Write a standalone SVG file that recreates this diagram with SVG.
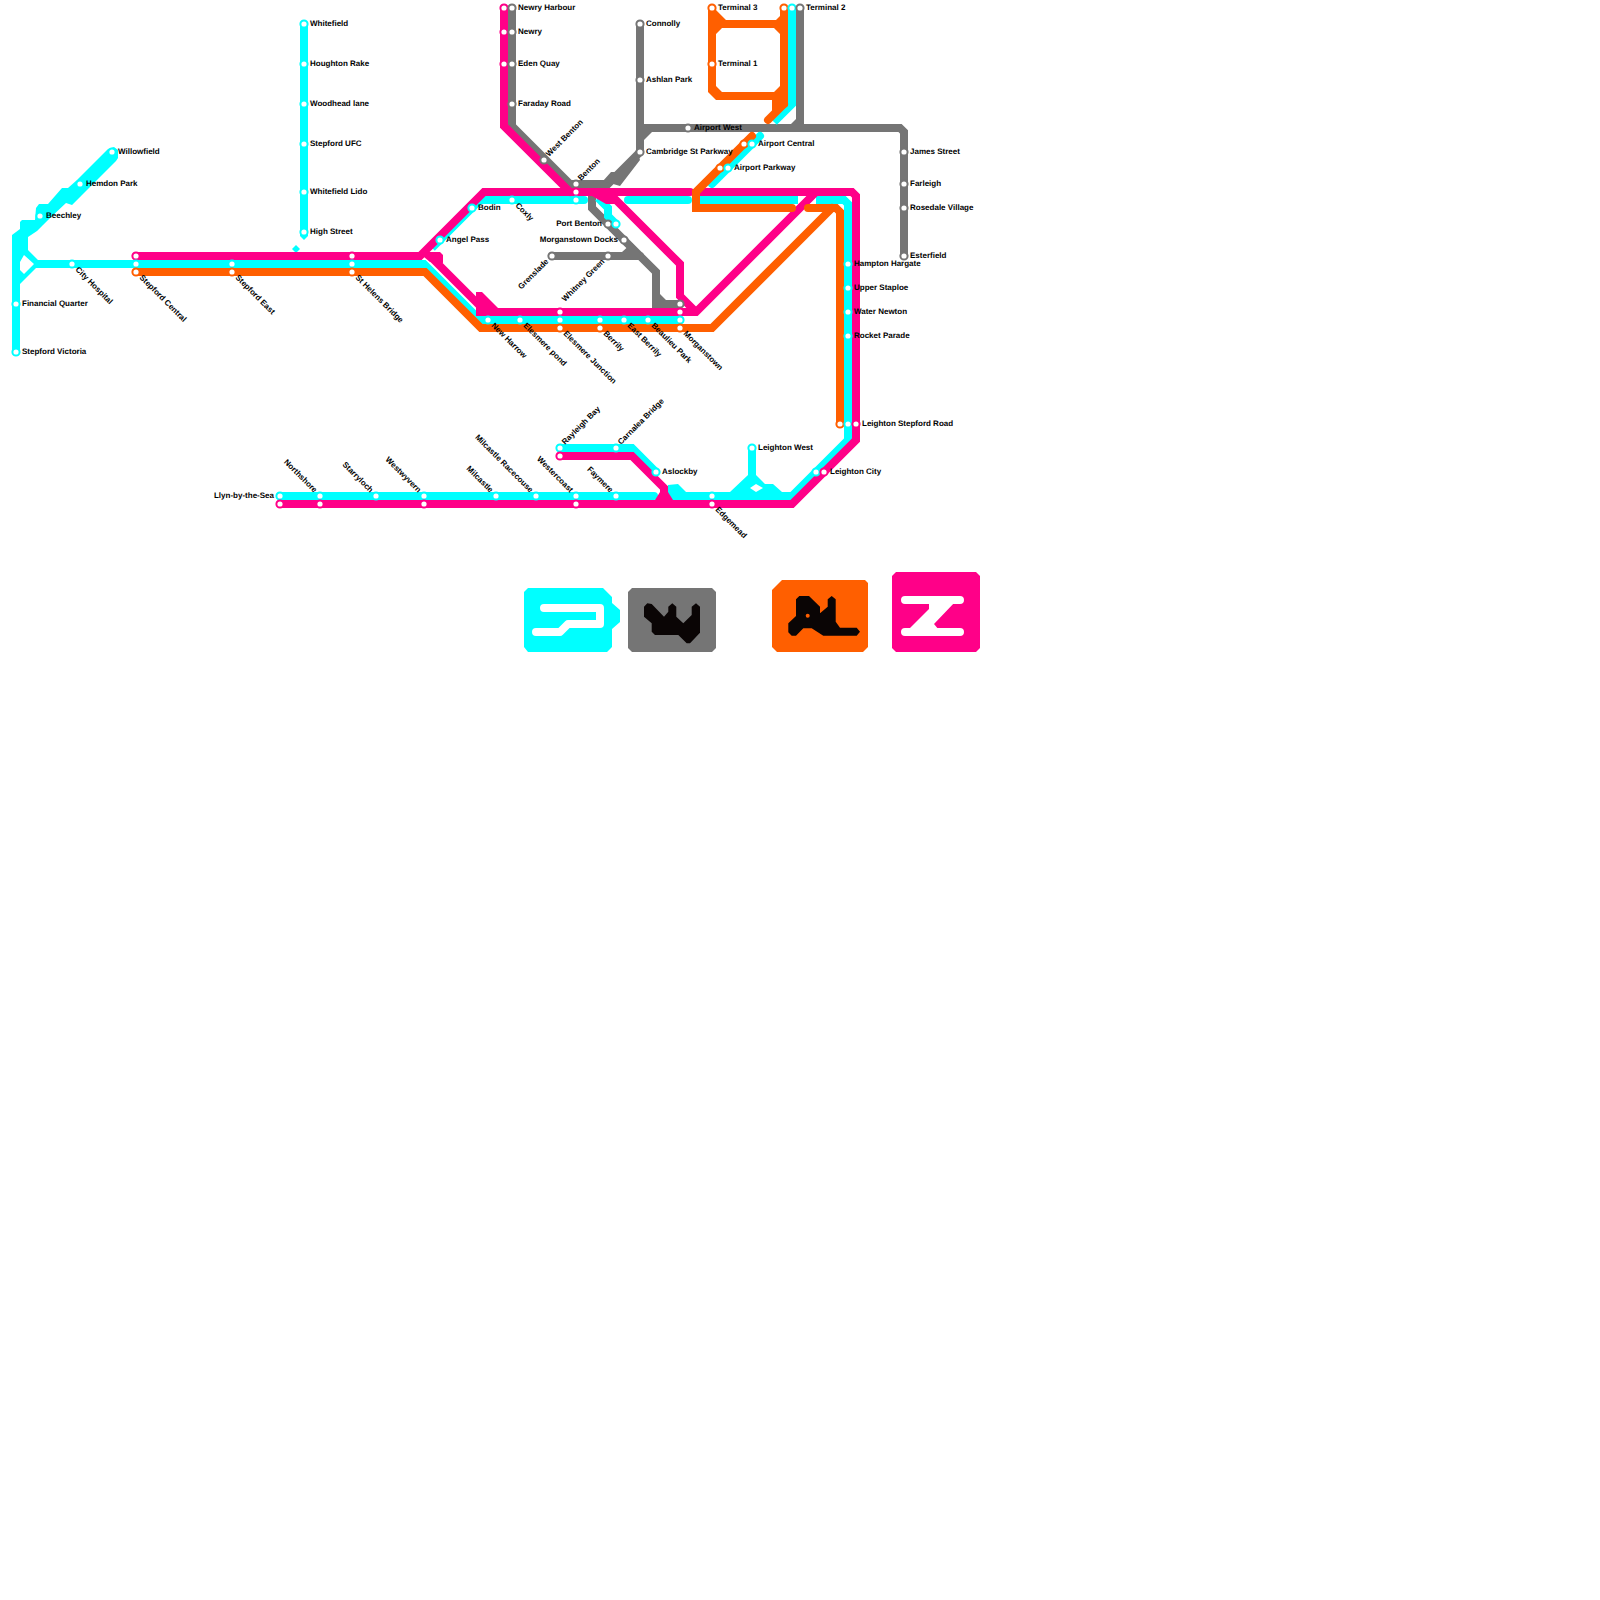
<svg xmlns="http://www.w3.org/2000/svg" width="1600" height="1600" viewBox="0 0 1600 1600">
<style>
.l{fill:none;stroke-width:8;stroke-linejoin:miter}
.r{stroke-linecap:round}
.c{stroke:#00ffff}.m{stroke:#ff0088}.o{stroke:#ff5f00}.g{stroke:#757575}
.fc{fill:#00ffff}.fm{fill:#ff0088}.fo{fill:#ff5f00}.fg{fill:#757575}.fk{fill:#0a0505}
circle{fill:#fff;stroke-width:2}
text{font-family:"Liberation Sans",Arial,sans-serif;font-size:8px;font-weight:700;fill:#000;text-rendering:geometricPrecision}
.a{text-anchor:end}
</style>
<rect width="1600" height="1600" fill="#fff"/>
<g id="connectors">
<g id="line-grey">
<path class="l g r" d="M512 8V126L570 184H608L640 152V24"/>
<path class="l g" d="M640 128H900L904 132V256"/>
<path class="l g" d="M800 8V128"/>
<polygon class="fg" points="790,125 797,118 804,124 804,132 790,132"/>
<polygon class="fg" points="603,181 611,172 620,172 638,154 640,160 620,186"/>
<polygon class="fg" points="644,124 652,132 644,140"/>
<path class="l g" d="M592 196V208L656 272V304H672"/>
<path class="l g r" d="M672 304H680"/>
<polygon class="fg" points="660,294 666,300 680,300 680,308 660,308"/>
<path class="l g r" d="M552 256H640"/>
<polygon class="fg" points="622,252 632,243 644,258 644,260 622,260"/>
</g>
<g id="line-cyan">
<path class="l c r" d="M16 352V240"/>
<path class="fc" fill-rule="evenodd" d="M12 235L20 229V222L22 220H35L36 208L39 204H48L62 188H68L77 180L108 149L114 147L118 150V158L116 161L82 195L72 205L66 203L50 218L43 225L37 231L28 237V250L38 260H40V268H36L12 292ZM20 262L24 255L34 264L24 274L20 270Z"/>
<path class="l c" d="M36 264H136"/>
<path class="l c r" d="M304 24V232"/>
<polygon class="fc" points="300,232 308,232 308,236 304,240 300,236"/>
<polygon class="fc" points="296,245 300,249 296,253 292,249"/>
<path class="l c r" d="M136 264H424L480 320H680"/>
<path class="l c" d="M432 248L480 200H582"/>
<path class="l c r" d="M582 200H584"/>
<path class="l c" d="M598 198L608 208V216L616 224"/>
<path class="l c r" d="M628 200H688"/>
<path class="l c" d="M700 200H798"/>
<path class="l c" d="M816 200H844L848 204V440L792 496H668"/>
<path class="l c r" d="M712 184L760 136"/>
<path class="l c" d="M792 8V104L774 122"/>
<path class="l c r" d="M280 496H654"/>
<path class="l c r" d="M560 448H632L656 472"/>
<path fill-rule="evenodd" class="fc" d="M668 485L678 484L686 492H730L748 475V448H756V475L765 484H773L782 492H793V500H668ZM756 484L750 488L756 492L763 488Z"/>
</g>
<g id="line-magenta">
<path class="l m r" d="M136 256H420L484 192H690"/>
<path class="l m" d="M430 256L486 312"/>
<polygon class="fm" points="418,252 440,252 443,255 443,263 430,262"/>
<polygon class="fm" points="476,316 476,292 482,292 498,308 498,316"/>
<path class="l m" d="M476 312H696L816 192"/>
<path class="l m" d="M608 192L680 264V296L696 312"/>
<path class="l m r" d="M504 8V126L570 192"/>
<polygon class="fm" points="592,196 612,196 616,204 606,204"/>
<path class="l m r" d="M700 192H852L856 196V440L792 504H280"/>
<path class="l m r" d="M560 456H632L664 488V504"/>
<polygon class="fm" points="655,500 660,492 668,492 673,500 673,508 655,508"/>
</g>
<g id="line-orange">
<path class="l o r" d="M136 272H425L481 328H712L832 208"/>
<path class="l o r" d="M752 136L696 192V208H792"/>
<path class="l o r" d="M808 208H836L840 212V424"/>
<path class="l o r" d="M768 120L784 104"/>
<polygon class="fo" points="772,96 788,96 788,106 772,118"/>
<path class="fo" fill-rule="evenodd" d="M708 8H716V10L726 20H776L780 16V8H788V100H716L708 92ZM722 28L716 34V86L722 92H774L780 86V34L774 28Z"/>
</g>
</g>
<g id="stations">
<g id="n-stepford-victoria"><circle class="c" cx="16" cy="352" r="3.6"/><text x="22" y="354">Stepford Victoria</text></g>
<g id="n-financial-quarter"><circle class="c" cx="16" cy="304" r="3.6"/><text x="22" y="306">Financial Quarter</text></g>
<g id="n-city-hospital"><circle class="c" cx="72" cy="264" r="3.6"/><text transform="translate(75 270) rotate(45)">City Hospital</text></g>
<g id="n-beechley"><circle class="c" cx="40" cy="216" r="3.6"/><text x="46" y="218">Beechley</text></g>
<g id="n-hemdon-park"><circle class="c" cx="80" cy="184" r="3.6"/><text x="86" y="186">Hemdon Park</text></g>
<g id="n-willowfield"><circle class="c" cx="112" cy="152" r="3.6"/><text x="118" y="154">Willowfield</text></g>
<g id="n-whitefield"><circle class="c" cx="304" cy="24" r="3.6"/><text x="310" y="26">Whitefield</text></g>
<g id="n-houghton-rake"><circle class="c" cx="304" cy="64" r="3.6"/><text x="310" y="66">Houghton Rake</text></g>
<g id="n-woodhead-lane"><circle class="c" cx="304" cy="104" r="3.6"/><text x="310" y="106">Woodhead lane</text></g>
<g id="n-stepford-ufc"><circle class="c" cx="304" cy="144" r="3.6"/><text x="310" y="146">Stepford UFC</text></g>
<g id="n-whitefield-lido"><circle class="c" cx="304" cy="192" r="3.6"/><text x="310" y="194">Whitefield Lido</text></g>
<g id="n-high-street"><circle class="c" cx="304" cy="232" r="3.6"/><text x="310" y="234">High Street</text></g>
<g id="n-stepford-central"><circle class="m" cx="136" cy="256" r="3.6"/><circle class="c" cx="136" cy="264" r="3.6"/><circle class="o" cx="136" cy="272" r="3.6"/><text transform="translate(139 278) rotate(45)">Stepford Central</text></g>
<g id="n-stepford-east"><circle class="c" cx="232" cy="264" r="3.6"/><circle class="o" cx="232" cy="272" r="3.6"/><text transform="translate(235 278) rotate(45)">Stepford East</text></g>
<g id="n-st-helens-bridge"><circle class="m" cx="352" cy="256" r="3.6"/><circle class="c" cx="352" cy="264" r="3.6"/><circle class="o" cx="352" cy="272" r="3.6"/><text transform="translate(355 278) rotate(45)">St Helens Bridge</text></g>
<g id="n-angel-pass"><circle class="c" cx="440" cy="240" r="3.6"/><text x="446" y="242">Angel Pass</text></g>
<g id="n-bodin"><circle class="c" cx="472" cy="208" r="3.6"/><text x="478" y="210">Bodin</text></g>
<g id="n-coxly"><circle class="c" cx="512" cy="200" r="3.6"/><text transform="translate(515 206) rotate(45)">Coxly</text></g>
<g id="n-newry-harbour"><circle class="m" cx="504" cy="8" r="3.6"/><circle class="g" cx="512" cy="8" r="3.6"/><text x="518" y="10">Newry Harbour</text></g>
<g id="n-newry"><circle class="m" cx="504" cy="32" r="3.6"/><circle class="g" cx="512" cy="32" r="3.6"/><text x="518" y="34">Newry</text></g>
<g id="n-eden-quay"><circle class="m" cx="504" cy="64" r="3.6"/><circle class="g" cx="512" cy="64" r="3.6"/><text x="518" y="66">Eden Quay</text></g>
<g id="n-faraday-road"><circle class="g" cx="512" cy="104" r="3.6"/><text x="518" y="106">Faraday Road</text></g>
<g id="n-west-benton"><circle class="g" cx="544" cy="160" r="3.6"/><text transform="translate(549 157) rotate(-45)">West Benton</text></g>
<g id="n-benton"><circle class="g" cx="576" cy="184" r="3.6"/><circle class="m" cx="576" cy="192" r="3.6"/><circle class="c" cx="576" cy="200" r="3.6"/><text transform="translate(581 181) rotate(-45)">Benton</text></g>
<g id="n-connolly"><circle class="g" cx="640" cy="24" r="3.6"/><text x="646" y="26">Connolly</text></g>
<g id="n-ashlan-park"><circle class="g" cx="640" cy="80" r="3.6"/><text x="646" y="82">Ashlan Park</text></g>
<g id="n-cambridge"><circle class="g" cx="640" cy="152" r="3.6"/><text x="646" y="154">Cambridge St Parkway</text></g>
<g id="n-airport-west"><circle class="g" cx="688" cy="128" r="3.6"/><text x="694" y="130">Airport West</text></g>
<g id="n-airport-central"><circle class="o" cx="744" cy="144" r="3.6"/><circle class="c" cx="752" cy="144" r="3.6"/><text x="758" y="146">Airport Central</text></g>
<g id="n-airport-parkway"><circle class="o" cx="720" cy="168" r="3.6"/><circle class="c" cx="728" cy="168" r="3.6"/><text x="734" y="170">Airport Parkway</text></g>
<g id="n-terminal-3"><circle class="o" cx="712" cy="8" r="3.6"/><text x="718" y="10">Terminal 3</text></g>
<g id="n-terminal-1"><circle class="o" cx="712" cy="64" r="3.6"/><text x="718" y="66">Terminal 1</text></g>
<g id="n-terminal-2"><circle class="o" cx="784" cy="8" r="3.6"/><circle class="c" cx="792" cy="8" r="3.6"/><circle class="g" cx="800" cy="8" r="3.6"/><text x="806" y="10">Terminal 2</text></g>
<g id="n-james-street"><circle class="g" cx="904" cy="152" r="3.6"/><text x="910" y="154">James Street</text></g>
<g id="n-farleigh"><circle class="g" cx="904" cy="184" r="3.6"/><text x="910" y="186">Farleigh</text></g>
<g id="n-rosedale-village"><circle class="g" cx="904" cy="208" r="3.6"/><text x="910" y="210">Rosedale Village</text></g>
<g id="n-esterfield"><circle class="g" cx="904" cy="256" r="3.6"/><text x="910" y="258">Esterfield</text></g>
<g id="n-port-benton"><circle class="g" cx="608" cy="224" r="3.6"/><circle class="c" cx="616" cy="224" r="3.6"/><text class="a" x="602" y="226">Port Benton</text></g>
<g id="n-morganstown-docks"><circle class="g" cx="624" cy="240" r="3.6"/><text class="a" x="618" y="242">Morganstown Docks</text></g>
<g id="n-grenslade"><circle class="g" cx="552" cy="256" r="3.6"/><text class="a" transform="translate(549 262) rotate(-45)">Grenslade</text></g>
<g id="n-whitney-green"><circle class="g" cx="608" cy="256" r="3.6"/><text class="a" transform="translate(605 262) rotate(-45)">Whitney Green</text></g>
<g id="n-new-harrow"><circle class="c" cx="488" cy="320" r="3.6"/><text transform="translate(491 326) rotate(45)">New Harrow</text></g>
<g id="n-elesmere-pond"><circle class="c" cx="520" cy="320" r="3.6"/><text transform="translate(523 326) rotate(45)">Elesmere pond</text></g>
<g id="n-elesmere-junction"><circle class="m" cx="560" cy="312" r="3.6"/><circle class="c" cx="560" cy="320" r="3.6"/><circle class="o" cx="560" cy="328" r="3.6"/><text transform="translate(563 334) rotate(45)">Elesmere Junction</text></g>
<g id="n-berrily"><circle class="c" cx="600" cy="320" r="3.6"/><circle class="o" cx="600" cy="328" r="3.6"/><text transform="translate(603 334) rotate(45)">Berrily</text></g>
<g id="n-east-berrily"><circle class="c" cx="624" cy="320" r="3.6"/><text transform="translate(627 326) rotate(45)">East Berrily</text></g>
<g id="n-beaulieu-park"><circle class="c" cx="648" cy="320" r="3.6"/><text transform="translate(651 326) rotate(45)">Beaulieu Park</text></g>
<g id="n-morganstown"><circle class="g" cx="680" cy="304" r="3.6"/><circle class="m" cx="680" cy="312" r="3.6"/><circle class="c" cx="680" cy="320" r="3.6"/><circle class="o" cx="680" cy="328" r="3.6"/><text transform="translate(683 334) rotate(45)">Morganstown</text></g>
<g id="n-hampton-hargate"><circle class="c" cx="848" cy="264" r="3.6"/><text x="854" y="266">Hampton Hargate</text></g>
<g id="n-upper-staploe"><circle class="c" cx="848" cy="288" r="3.6"/><text x="854" y="290">Upper Staploe</text></g>
<g id="n-water-newton"><circle class="c" cx="848" cy="312" r="3.6"/><text x="854" y="314">Water Newton</text></g>
<g id="n-rocket-parade"><circle class="c" cx="848" cy="336" r="3.6"/><text x="854" y="338">Rocket Parade</text></g>
<g id="n-leighton-stepford-road"><circle class="o" cx="840" cy="424" r="3.6"/><circle class="c" cx="848" cy="424" r="3.6"/><circle class="m" cx="856" cy="424" r="3.6"/><text x="862" y="426">Leighton Stepford Road</text></g>
<g id="n-leighton-city"><circle class="c" cx="816" cy="472" r="3.6"/><circle class="m" cx="824" cy="472" r="3.6"/><text x="830" y="474">Leighton City</text></g>
<g id="n-leighton-west"><circle class="c" cx="752" cy="448" r="3.6"/><text x="758" y="450">Leighton West</text></g>
<g id="n-aslockby"><circle class="c" cx="656" cy="472" r="3.6"/><text x="662" y="474">Aslockby</text></g>
<g id="n-edgemead"><circle class="c" cx="712" cy="496" r="3.6"/><circle class="m" cx="712" cy="504" r="3.6"/><text transform="translate(715 510) rotate(45)">Edgemead</text></g>
<g id="n-rayleigh-bay"><circle class="c" cx="560" cy="448" r="3.6"/><circle class="m" cx="560" cy="456" r="3.6"/><text transform="translate(565 445) rotate(-45)">Rayleigh Bay</text></g>
<g id="n-carnalea-bridge"><circle class="c" cx="616" cy="448" r="3.6"/><text transform="translate(621 445) rotate(-45)">Carnalea Bridge</text></g>
<g id="n-faymere"><circle class="c" cx="616" cy="496" r="3.6"/><text class="a" transform="translate(610 493) rotate(45)">Faymere</text></g>
<g id="n-westercoast"><circle class="c" cx="576" cy="496" r="3.6"/><circle class="m" cx="576" cy="504" r="3.6"/><text class="a" transform="translate(570 493) rotate(45)">Westercoast</text></g>
<g id="n-milcastle-racecouse"><circle class="c" cx="536" cy="496" r="3.6"/><text class="a" transform="translate(530 493) rotate(45)">Milcastle Racecouse</text></g>
<g id="n-milcastle"><circle class="c" cx="496" cy="496" r="3.6"/><text class="a" transform="translate(490 493) rotate(45)">Milcastle</text></g>
<g id="n-westwyvern"><circle class="c" cx="424" cy="496" r="3.6"/><circle class="m" cx="424" cy="504" r="3.6"/><text class="a" transform="translate(418 493) rotate(45)">Westwyvern</text></g>
<g id="n-starryloch"><circle class="c" cx="376" cy="496" r="3.6"/><text class="a" transform="translate(370 493) rotate(45)">Starryloch</text></g>
<g id="n-northshore"><circle class="c" cx="320" cy="496" r="3.6"/><circle class="m" cx="320" cy="504" r="3.6"/><text class="a" transform="translate(314 493) rotate(45)">Northshore</text></g>
<g id="n-llyn"><circle class="c" cx="280" cy="496" r="3.6"/><circle class="m" cx="280" cy="504" r="3.6"/><text class="a" x="274" y="498">Llyn-by-the-Sea</text></g>
</g>
<g id="logos">
<g id="logo-cyan"><polygon class="fc" points="528,588 603,588 612,597 612,603 620,610 620,622 612,629 612,647 607,652 528,652 524,647 524,592"/>
<path fill="none" stroke="#fff" stroke-width="8" stroke-linecap="round" stroke-linejoin="round" d="M536 632H560L568 624H600V608H544"/></g>
<g id="logo-grey"><polygon class="fg" points="632,588 712,588 716,592 716,648 712,652 632,652 628,648 628,592"/>
<polygon class="fk" points="644,606.7 647.3,603.3 651.7,604 664,616.7 668.3,611.7 668.3,606.7 672.3,603.3 676.3,606.7 676.3,616.7 683.3,623.3 691.7,615 691.7,606.7 696,603.3 700,606.7 700,632.7 690,643.3 686.7,643.3 678.3,635 655,635 651.7,631.7 651.7,623.3 644,616.7"/></g>
<g id="logo-orange"><polygon class="fo" points="782,580 865,580 868,583 868,647 863,652 777,652 772,647 772,590"/>
<polygon class="fk" points="788.3,623.3 796,616 796,599.3 799.3,596 809,596 820,606.7 820,613.3 827.7,606.7 827.7,599.3 831.7,596 835.7,599.3 835.7,621.7 840,627.7 856.7,627.7 860,631.7 856.7,635.7 823.3,635.7 811.7,628.3 803.3,628.3 796,635.7 791.7,635.7 788.3,632.3"/>
<circle cx="807.7" cy="615.7" r="2" style="fill:#ff5f00;stroke:none"/></g>
<g id="logo-magenta"><polygon class="fm" points="896,572 976,572 980,576 980,648 976,652 896,652 892,648 892,576"/>
<path fill="none" stroke="#fff" stroke-width="8" stroke-linecap="round" d="M905 600H960M905 632H960"/>
<polygon fill="#fff" points="929,602 955,602 934,624 939,630 908,630 929,609"/></g>
</g>
</svg>
